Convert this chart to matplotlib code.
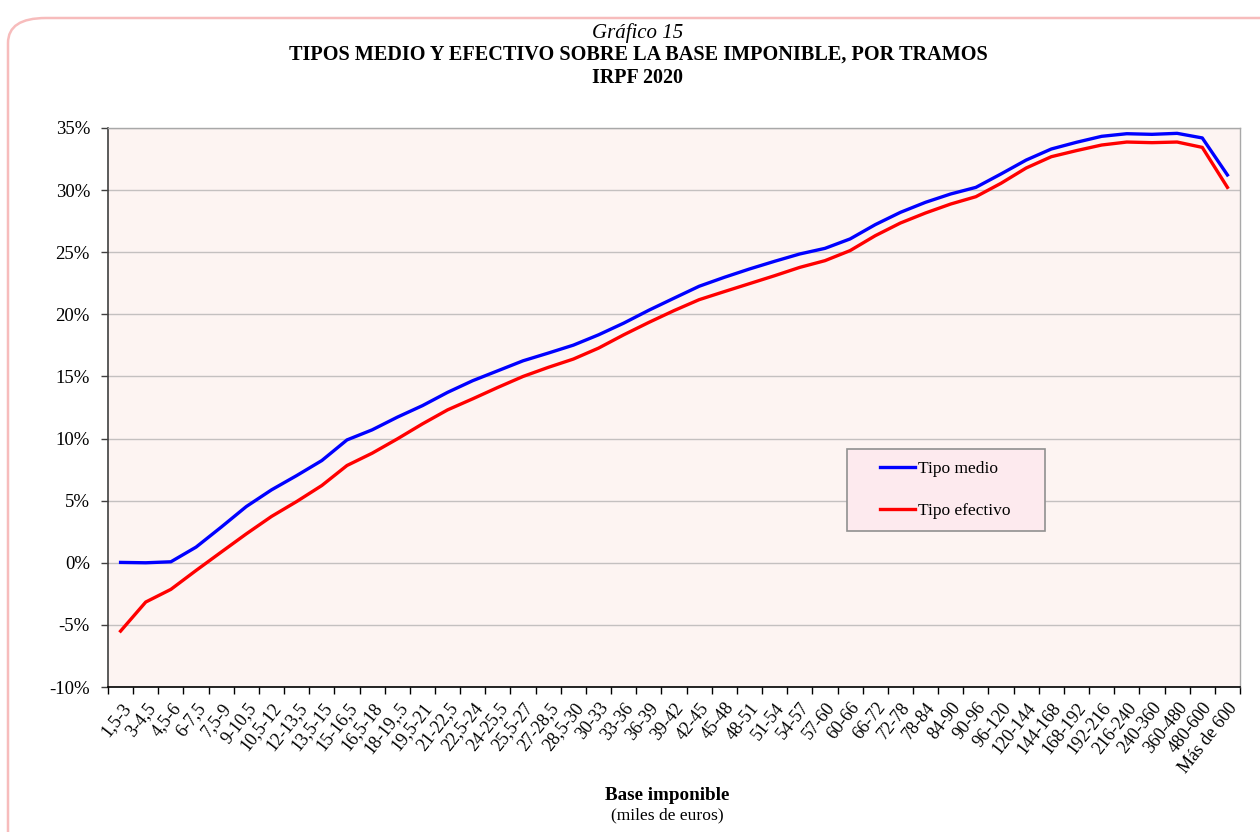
import matplotlib
matplotlib.use("Agg")
import matplotlib.pyplot as plt
from matplotlib.patches import FancyBboxPatch, Rectangle
from matplotlib.ticker import FixedLocator, PercentFormatter

plt.rcParams['font.family'] = ['Liberation Serif', 'DejaVu Serif']
plt.rcParams['axes.unicode_minus'] = False

tramos = ["1,5-3", "3-4,5", "4,5-6", "6-7,5", "7,5-9", "9-10,5", "10,5-12", "12-13,5",
          "13,5-15", "15-16,5", "16,5-18", "18-19,.5", "19,5-21", "21-22,5", "22,5-24",
          "24-25,5", "25,5-27", "27-28,5", "28,5-30", "30-33", "33-36", "36-39", "39-42",
          "42-45", "45-48", "48-51", "51-54", "54-57", "57-60", "60-66", "66-72", "72-78",
          "78-84", "84-90", "90-96", "96-120", "120-144", "144-168", "168-192", "192-216",
          "216-240", "240-360", "360-480", "480-600", "Más de 600"]

tipo_medio = [0.03, 0.0, 0.08, 1.26, 2.87, 4.53, 5.87, 7.02, 8.23, 9.89, 10.70, 11.72,
              12.65, 13.72, 14.66, 15.46, 16.26, 16.88, 17.52, 18.35, 19.29, 20.33, 21.3,
              22.26, 22.98, 23.65, 24.27, 24.86, 25.31, 26.07, 27.22, 28.21, 29.02, 29.69,
              30.22, 31.30, 32.42, 33.31, 33.85, 34.33, 34.54, 34.49, 34.57, 34.2, 31.22]

tipo_efectivo = [-5.50, -3.16, -2.14, -0.62, 0.86, 2.33, 3.73, 4.93, 6.22, 7.83, 8.82,
                 9.97, 11.18, 12.31, 13.2, 14.12, 15.0, 15.73, 16.4, 17.28, 18.35, 19.35,
                 20.3, 21.18, 21.83, 22.47, 23.11, 23.78, 24.32, 25.13, 26.33, 27.35, 28.16,
                 28.88, 29.47, 30.55, 31.78, 32.69, 33.18, 33.63, 33.87, 33.82, 33.87, 33.44,
                 30.22]

y_ticks = [-10, -5, 0, 5, 10, 15, 20, 25, 30, 35]

W, H = 1260, 832
fig = plt.figure(figsize=(W / 100, H / 100), dpi=100)
fig.patch.set_facecolor('white')

# rounded pink border
border = FancyBboxPatch((8 / W, -0.05), 1.2, (H - 18) / H + 0.05,
                        boxstyle="round,pad=0,rounding_size=0.03",
                        transform=fig.transFigure, facecolor='none',
                        edgecolor='#f7bcbc', linewidth=1.8, clip_on=False)
fig.patches.append(border)

ax = fig.add_axes([108 / W, 1 - 687 / H, (1240 - 108) / W, (687 - 128) / H])
ax.set_facecolor('#fdf4f2')

x = list(range(len(tramos)))
l1, = ax.plot(x, tipo_medio, color='#0000ff', lw=2.4, label='Tipo medio', zorder=3)
l2, = ax.plot(x, tipo_efectivo, color='#ff0000', lw=2.4, label='Tipo efectivo', zorder=3)

ax.set_xlim(-0.5, len(tramos) - 0.5)
ax.set_ylim(-10, 35)
ax.set_yticks(y_ticks)
ax.yaxis.set_major_formatter(PercentFormatter(decimals=0))
ax.grid(axis='y', color='#c4c0c0', lw=1.0)
ax.set_axisbelow(True)

ax.set_xticks(x)
ax.set_xticklabels(tramos, rotation=52, ha='right', va='top', rotation_mode='anchor',
                   fontsize=13)
ax.xaxis.set_minor_locator(FixedLocator([i - 0.5 for i in range(len(tramos) + 1)]))
ax.tick_params(axis='x', which='major', length=0, pad=9)
ax.tick_params(axis='x', which='minor', length=5, width=1, color='black')
ax.tick_params(axis='y', which='major', length=5, width=1, labelsize=13.5, pad=8,
               color='#404040')

for s in ['top', 'right']:
    ax.spines[s].set_color('#a8a8a8')
    ax.spines[s].set_linewidth(1)
ax.spines['left'].set_color('#404040')
ax.spines['bottom'].set_color('black')
ax.spines['left'].set_linewidth(1.2)
ax.spines['bottom'].set_linewidth(1.2)

# legend box
lx0, lx1 = (847 - 108) / 1132, (1045 - 108) / 1132
ly0, ly1 = (687 - 531) / 559, (687 - 449) / 559
ax.add_patch(Rectangle((lx0, ly0), lx1 - lx0, ly1 - ly0, transform=ax.transAxes,
                       facecolor='#fdeaee', edgecolor='#909090', lw=1.2, zorder=4))
leg = ax.legend(handles=[l1, l2], loc='center left',
                bbox_to_anchor=((880 - 108) / 1132, (ly0 + ly1) / 2),
                frameon=False, fontsize=12.5, handlelength=2.0, handletextpad=0.2,
                labelspacing=1.45, borderpad=0, borderaxespad=0)
leg.set_zorder(5)

# titles
cx = 638 / W
fig.text(cx, 1 - 33 / H, "Gráfico 15", ha='center', va='center', fontsize=15, style='italic')
fig.text(cx, 1 - 55 / H, "TIPOS MEDIO Y EFECTIVO SOBRE LA BASE IMPONIBLE, POR TRAMOS",
         ha='center', va='center', fontsize=14.6, weight='bold')
fig.text(cx, 1 - 78 / H, "IRPF 2020", ha='center', va='center', fontsize=14.4, weight='bold')

fig.text(667 / W, 1 - 795 / H, "Base imponible", ha='center', va='center',
         fontsize=13.8, weight='bold')
fig.text(667 / W, 1 - 815 / H, "(miles de euros)", ha='center', va='center', fontsize=12.6)

fig.savefig('out.png', dpi=100)
